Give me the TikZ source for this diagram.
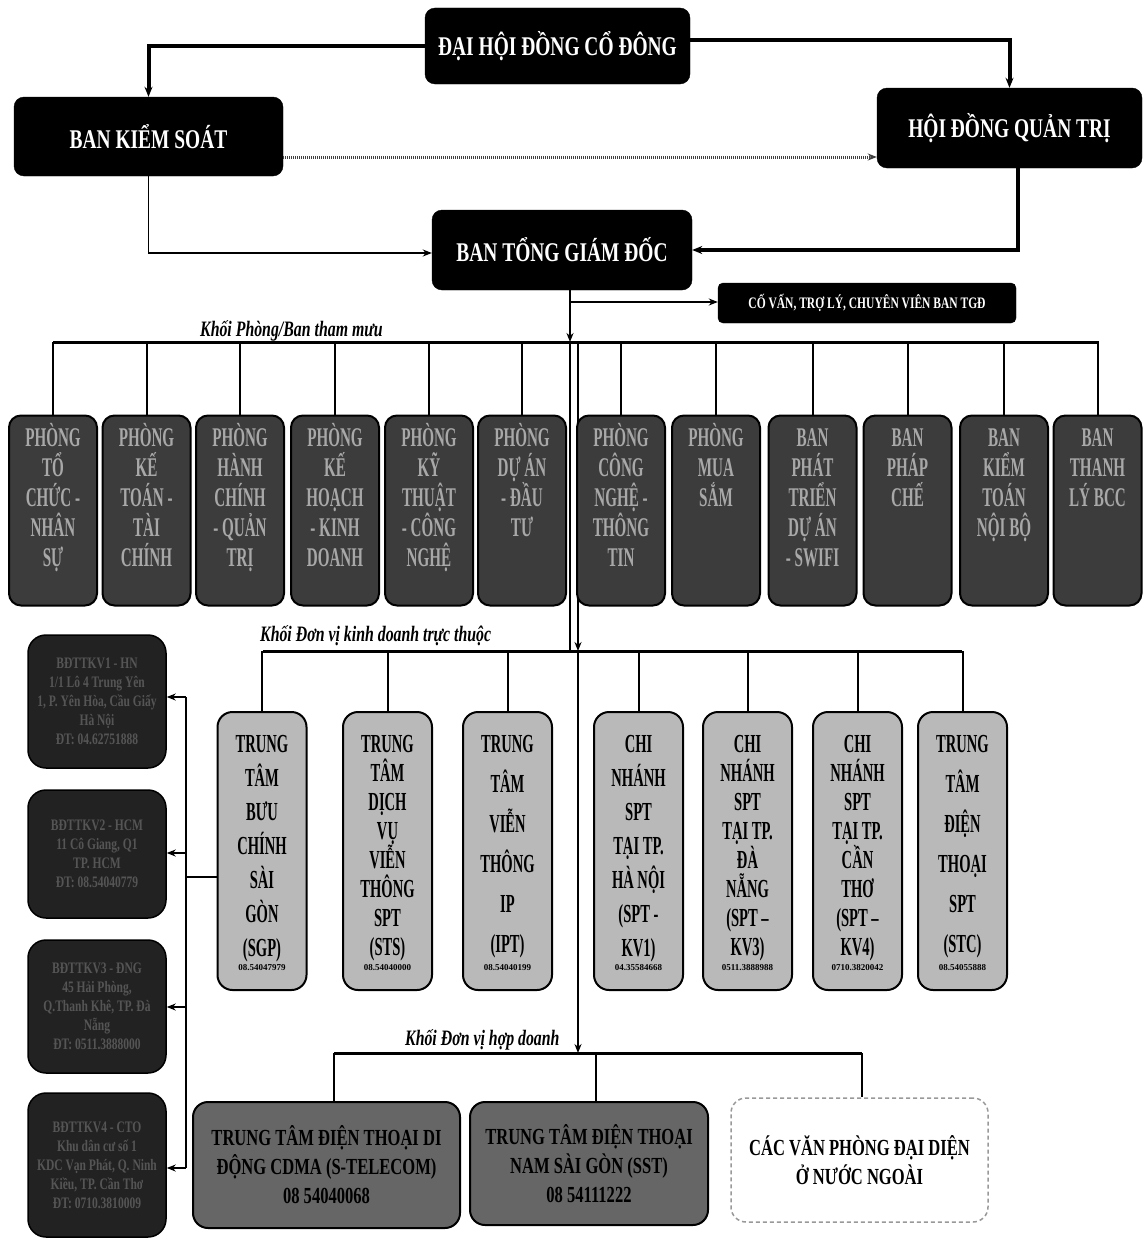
\documentclass[tikz,border=0pt]{standalone}
\usepackage{fontspec}
\setmainfont{Liberation Serif}
\newfontfamily\cfa[FakeStretch=0.72]{Liberation Serif}
\newfontfamily\cfb[FakeStretch=0.56]{Liberation Serif}
\usetikzlibrary{arrows.meta}
\definecolor{deptfill}{HTML}{3C3C3C}
\definecolor{deptfg}{HTML}{A8A8A8}
\definecolor{unitfill}{HTML}{B9B9B9}
\definecolor{regfill}{HTML}{222222}
\definecolor{regfg}{HTML}{555555}
\definecolor{jvfill}{HTML}{666666}
\begin{document}
\begin{tikzpicture}[x=1pt,y=-1pt,
  topbox/.style={draw=black,fill=black,rounded corners=10pt,text=white,inner sep=0pt,
    font={\cfa\bfseries\fontsize{27}{30}\selectfont}},
  cvbox/.style={draw=black,fill=black,rounded corners=5pt,text=white,inner sep=0pt,
    font={\cfa\bfseries\fontsize{16}{18}\selectfont}},
  deptbox/.style={draw=black,line width=2pt,fill=deptfill,rounded corners=12pt,
    minimum width=88pt,minimum height=190pt,inner sep=0pt},
  depttext/.style={text=deptfg,align=center,inner sep=0pt,anchor=north,
    font={\cfb\bfseries\fontsize{27}{30}\selectfont}},
  unitbox/.style={draw=black,line width=2pt,fill=unitfill,rounded corners=15pt,
    minimum width=89pt,minimum height=278pt,inner sep=0pt},
  unittext/.style={text=black,align=center,inner sep=0pt,anchor=north},
  phone/.style={text=black,inner sep=0pt,font={\bfseries\fontsize{9}{10}\selectfont}},
  regbox/.style={draw=black,line width=1.5pt,fill=regfill,rounded corners=18pt,
    minimum width=138pt,inner sep=0pt,text=regfg,align=center,
    font={\cfa\bfseries\fontsize{16}{19}\selectfont}},
  jvbox/.style={draw=black,line width=2pt,fill=jvfill,rounded corners=15pt,inner sep=0pt,
    text=black,align=center,font={\cfa\bfseries\fontsize{23}{29}\selectfont}},
  dashbox/.style={draw=gray!80,line width=1.5pt,dash pattern=on 4pt off 3pt,fill=white,
    rounded corners=15pt,inner sep=0pt,text=black,align=center,
    font={\cfa\bfseries\fontsize{23}{29}\selectfont}},
  lbl/.style={inner sep=0pt,anchor=west,text=black,
    font={\cfa\bfseries\itshape\fontsize{22}{24}\selectfont}},
  thickc/.style={line width=4pt,-{Stealth[length=10pt,width=8pt]}},
  thinc/.style={line width=1.5pt},
  medc/.style={line width=2pt},
  arr/.style={-{Stealth[length=9pt,width=7pt]}},
  busline/.style={line width=3pt},
  dotc/.style={line width=3pt,draw=black!75,dash pattern=on 1pt off 1pt,
    -{Stealth[length=9pt,width=7pt]}}
]
\useasboundingbox (0,0) rectangle (1144,1239);
\fill[white] (0,0) rectangle (1144,1239);

% ---------- top level ----------
\node[topbox,minimum width=265pt,minimum height=76pt] (dhdcd) at (557.5,46) {ĐẠI HỘI ĐỒNG CỔ ĐÔNG};
\node[topbox,minimum width=269pt,minimum height=79pt] (bks) at (148.5,136.5) {BAN KIỂM SOÁT};
\node[topbox,minimum width=265pt,minimum height=80pt] (hdqt) at (1009.5,128) {HỘI ĐỒNG QUẢN TRỊ};
\node[topbox,minimum width=260pt,minimum height=80pt] (btgd) at (562,250) {BAN TỔNG GIÁM ĐỐC};
\node[cvbox,minimum width=298pt,minimum height=40pt] (cv) at (867,303) {CỐ VẤN, TRỢ LÝ, CHUYÊN VIÊN BAN TGĐ};

\draw[thickc] (dhdcd.west) -| (bks.north);
\draw[thickc] (dhdcd.east |- 0,40) -| (hdqt.north);
\draw[dotc] (bks.east |- 0,157) -- (hdqt.west |- 0,157);
\draw[thinc,arr] (bks.south) |- (btgd.west |- 0,253);
\draw[thickc] ([xshift=8pt]hdqt.south) |- (btgd.east);

\coordinate (k1) at (570,302);
\coordinate (bus1M) at (570,342);
\coordinate (bus2M) at (570,651);
\coordinate (t2a) at (578,342);
\coordinate (t2b) at (578,651);
\coordinate (bus3M) at (578,1053);

\draw[medc,arr] (btgd.south -| k1) -- (bus1M);
\draw[medc,arr] (k1) -- (cv.west |- k1);
\draw[medc] (bus1M) -- (bus2M);
\draw[medc,arr] (t2a) -- (t2b);
\draw[medc,arr] (t2b) -- (bus3M);

% ---------- departments ----------
\coordinate (bus1L) at (53,342);
\coordinate (bus1R) at (1099,342);
\draw[busline] (bus1L) -- (bus1R);
\node[lbl] (lab1) at (200,331) {Khối Phòng/Ban tham mưu};

\foreach \i/\x/\t in {
  1/53/{PHÒNG\\TỔ\\CHỨC -\\NHÂN\\SỰ},
  2/146.5/{PHÒNG\\KẾ\\TOÁN -\\TÀI\\CHÍNH},
  3/240/{PHÒNG\\HÀNH\\CHÍNH\\- QUẢN\\TRỊ},
  4/335/{PHÒNG\\KẾ\\HOẠCH\\- KINH\\DOANH},
  5/429/{PHÒNG\\KỸ\\THUẬT\\- CÔNG\\NGHỆ},
  6/522/{PHÒNG\\DỰ ÁN\\- ĐẦU\\TƯ},
  7/621/{PHÒNG\\CÔNG\\NGHỆ -\\THÔNG\\TIN},
  8/716/{PHÒNG\\MUA\\SẮM},
  9/812.5/{BAN\vphantom{Ò}\\PHÁT\\TRIỂN\\DỰ ÁN\\- SWIFI},
  10/907.5/{BAN\vphantom{Ò}\\PHÁP\\CHẾ},
  11/1004/{BAN\vphantom{Ò}\\KIỂM\\TOÁN\\NỘI BỘ},
  12/1097.5/{BAN\vphantom{Ò}\\THANH\\LÝ BCC}} {
  \node[deptbox] (d\i) at (\x,510.5) {};
  \node[depttext] (d\i t) at ([yshift=-9pt]d\i.north) {\t};
  \draw[medc] (d\i.north |- bus1L) -- (d\i.north);
}

% ---------- business units ----------
\coordinate (bus2L) at (263,651);
\coordinate (bus2R) at (962,651);
\draw[busline] (bus2L) -- (bus2R);
\node[lbl] (lab2) at (260,636) {Khối Đơn vị kinh doanh trực thuộc};

\foreach \i/\x/\bs/\t/\p in {
  1/262/34/{TRUNG\\TÂM\\BƯU\\CHÍNH\\SÀI\\GÒN\\(SGP)}/{08.54047979},
  2/387.5/29/{TRUNG\\TÂM\\DỊCH\\VỤ\\VIỄN\\THÔNG\\SPT\\(STS)}/{08.54040000},
  3/507.5/40/{TRUNG\\TÂM\\VIỄN\\THÔNG\\IP\\(IPT)}/{08.54040199},
  4/638.5/34/{CHI\\NHÁNH\\SPT\\TẠI TP.\\HÀ NỘI\\(SPT -\\KV1)}/{04.35584668},
  5/747.5/29/{CHI\\NHÁNH\\SPT\\TẠI TP.\\ĐÀ\\NẴNG\\(SPT –\\KV3)}/{0511.3888988},
  6/857.5/29/{CHI\\NHÁNH\\SPT\\TẠI TP.\\CẦN\\THƠ\\(SPT –\\KV4)}/{0710.3820042},
  7/962.5/40/{TRUNG\\TÂM\\ĐIỆN\\THOẠI\\SPT\\(STC)}/{08.54055888}} {
  \node[unitbox] (b\i) at (\x,851) {};
  \node[unittext,font={\cfb\bfseries\fontsize{26}{\bs}\selectfont}] (b\i t) at (\x,735) {\t};
  \node[phone] (b\i p) at (\x,968) {\p};
  \draw[medc] (b\i.north |- bus2L) -- (b\i.north);
}

% ---------- regional boxes ----------
\node[regbox,minimum height=133pt] (r1) at (97,701.5) {BĐTTKV1 - HN\\1/1 Lô 4 Trung Yên\\1, P. Yên Hòa, Cầu Giấy\\Hà Nội\\ĐT: 04.62751888};
\node[regbox,minimum height=128pt] (r2) at (97,854) {BĐTTKV2 - HCM\\11 Cô Giang, Q1\\TP. HCM\\ĐT: 08.54040779};
\node[regbox,minimum height=133pt] (r3) at (97,1006.5) {BĐTTKV3 - ĐNG\\45 Hải Phòng,\\Q.Thanh Khê, TP. Đà\\Nẵng\\ĐT: 0511.3888000};
\node[regbox,minimum height=144pt] (r4) at (97,1165) {BĐTTKV4 - CTO\\Khu dân cư số 1\\KDC Vạn Phát, Q. Ninh\\Kiều, TP. Cần Thơ\\ĐT: 0710.3810009};

\coordinate (lvT) at (186,697);
\coordinate (lvB) at (186,1168);
\draw[medc] (lvT) -- (lvB);
\draw[medc,arr] (lvT) -- (r1.east |- lvT);
\draw[medc,arr] (186,853) -- (r2.east |- 0,853);
\draw[medc,arr] (186,1007) -- (r3.east |- 0,1007);
\draw[medc,arr] (lvB) -- (r4.east |- lvB);
\draw[medc] (186,877) -- (b1.west |- 0,877);

% ---------- joint ventures ----------
\coordinate (bus3L) at (334,1053);
\coordinate (bus3R) at (862,1053);
\draw[busline] (bus3L) -- (bus3R);
\node[lbl] (lab3) at (405,1040) {Khối Đơn vị hợp doanh};

\node[jvbox,minimum width=267pt,minimum height=126pt] (j1) at (326.5,1165) {TRUNG TÂM ĐIỆN THOẠI DI\\ĐỘNG CDMA (S-TELECOM)\\08 54040068};
\node[jvbox,minimum width=238pt,minimum height=123pt] (j2) at (589,1163.5) {TRUNG TÂM ĐIỆN THOẠI\\NAM SÀI GÒN (SST)\\08 54111222};
\node[dashbox,minimum width=257pt,minimum height=124pt] (j3) at (859.5,1160) {CÁC VĂN PHÒNG ĐẠI DIỆN\\Ở NƯỚC NGOÀI};

\draw[medc] (bus3L) -- (j1.north -| bus3L);
\draw[medc] (596,1053) -- (j2.north -| 596,0);
\draw[medc] (bus3R) -- (j3.north -| bus3R);
\end{tikzpicture}
\end{document}
